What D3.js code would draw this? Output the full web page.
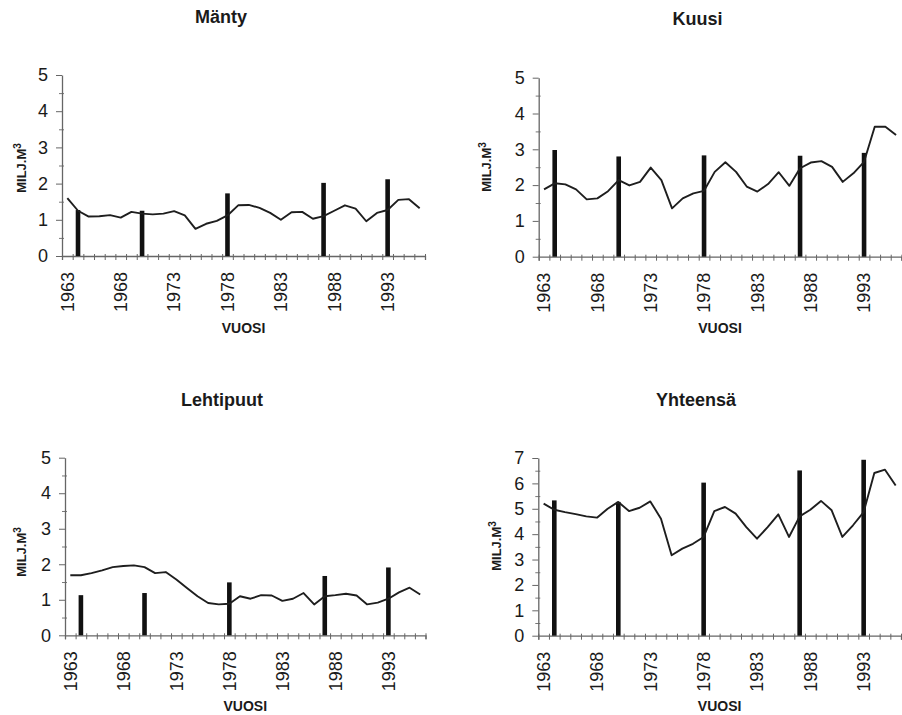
<!DOCTYPE html>
<html>
<head>
<meta charset="utf-8">
<script src="https://cdn.jsdelivr.net/npm/d3@7"></script>
<style>
  body { margin: 0; background: #fff; }
  svg { display: block; }
  text { font-family: "Liberation Sans", Arial, sans-serif; fill: #1a1a1a; }
</style>
</head>
<body>
<svg id="chart" width="902" height="715"></svg>
<script>
// years (categories)
var years = [1963, 1964, 1965, 1966, 1967, 1968, 1969, 1970, 1971, 1972, 1973, 1974,
    1975, 1976, 1977, 1978, 1979, 1980, 1981, 1982, 1983, 1984, 1985, 1986,
    1987, 1988, 1989, 1990, 1991, 1992, 1993, 1994, 1995, 1996];
var labelYears = [1963, 1968, 1973, 1978, 1983, 1988, 1993];
var barYears = [1964, 1970, 1978, 1987, 1993];

// Mänty
var manty = [1.6, 1.25, 1.09, 1.1, 1.13, 1.06, 1.22, 1.17, 1.15, 1.17, 1.24, 1.12,
    0.75, 0.89, 0.97, 1.12, 1.4, 1.41, 1.33, 1.19, 1.0, 1.21, 1.22, 1.03,
    1.1, 1.25, 1.4, 1.31, 0.96, 1.19, 1.27, 1.55, 1.57, 1.32];
var mantyBars = [1.27, 1.25, 1.73, 2.02, 2.12];

// Kuusi
var kuusi = [1.88, 2.05, 2.02, 1.88, 1.6, 1.63, 1.83, 2.14, 1.99, 2.09, 2.49, 2.14,
    1.35, 1.63, 1.77, 1.84, 2.37, 2.64, 2.37, 1.96, 1.82, 2.03, 2.36, 1.98,
    2.47, 2.63, 2.67, 2.51, 2.09, 2.33, 2.65, 3.63, 3.63, 3.4];
var kuusiBars = [2.98, 2.8, 2.83, 2.82, 2.9];

// Lehtipuut
var lehti = [1.69, 1.69, 1.75, 1.83, 1.92, 1.95, 1.97, 1.92, 1.75, 1.78, 1.57, 1.33,
    1.1, 0.91, 0.87, 0.89, 1.1, 1.03, 1.13, 1.12, 0.97, 1.03, 1.19, 0.87,
    1.1, 1.13, 1.17, 1.12, 0.87, 0.92, 1.03, 1.21, 1.34, 1.15];
var lehtiBars = [1.13, 1.19, 1.49, 1.67, 1.91];

// Yhteensä
var yht = [5.2, 4.96, 4.87, 4.79, 4.7, 4.65, 5.0, 5.27, 4.91, 5.04, 5.29, 4.61,
    3.17, 3.43, 3.62, 3.89, 4.91, 5.07, 4.81, 4.28, 3.82, 4.28, 4.78, 3.89,
    4.7, 4.96, 5.31, 4.94, 3.89, 4.35, 4.87, 6.41, 6.54, 5.92];
var yhtBars = [5.33, 5.27, 6.03, 6.51, 6.93];

var yTicks5 = [0, 1, 2, 3, 4, 5];
var yTicks7 = [0, 1, 2, 3, 4, 5, 6, 7];

// panel layout
var panels = [
    {title: "Mänty", line: manty, bars: mantyBars, yTicks: yTicks5,
     x0: 62, x1: 425, y0: 256, yTop: 75, tx: 221, ty: 23, lx: 26, ly: 168, vy: 333},
    {title: "Kuusi", line: kuusi, bars: kuusiBars, yTicks: yTicks5,
     x0: 538.7, x1: 901.4, y0: 256.7, yTop: 77.7, tx: 697.5, ty: 25, lx: 491, ly: 167, vy: 333},
    {title: "Lehtipuut", line: lehti, bars: lehtiBars, yTicks: yTicks5,
     x0: 65, x1: 425.5, y0: 635.3, yTop: 457.7, tx: 222, ty: 406, lx: 26, ly: 552, vy: 711},
    {title: "Yhteensä", line: yht, bars: yhtBars, yTicks: yTicks7,
     x0: 538.3, x1: 901, y0: 635.7, yTop: 458, tx: 696, ty: 406, lx: 501, ly: 546, vy: 711}
];

var svg = d3.select("#chart");

panels.forEach(function(p) {
    var g = svg.append("g");
    var yMax = d3.max(p.yTicks);

    var x = d3.scaleBand().domain(years).range([p.x0, p.x1]).padding(0);
    var xi = d3.scaleLinear().domain([0, years.length]).range([p.x0, p.x1]);
    var y = d3.scaleLinear().domain([0, yMax]).range([p.y0, p.yTop]);
    var cx = function(yr) { return x(yr) + x.bandwidth() / 2; };

    // minor y ticks at halves
    var halves = p.yTicks.slice(0, -1).map(function(v) { return v + 0.5; });
    var yMinor = g.append("g")
        .attr("transform", "translate(" + p.x0 + ",0)")
        .call(d3.axisLeft(y).tickValues(halves).tickSize(3).tickFormat(""));
    yMinor.select(".domain").remove();
    yMinor.selectAll(".tick line").attr("x1", -3).attr("x2", 2).attr("stroke", "#777");

    // y axis
    var yAx = g.append("g")
        .attr("transform", "translate(" + p.x0 + ",0)")
        .call(d3.axisLeft(y).tickValues(p.yTicks).tickFormat(d3.format("d"))
            .tickSizeInner(6).tickSizeOuter(0).tickPadding(8));
    yAx.select(".domain").attr("stroke", "#666").attr("stroke-width", 1.3);
    yAx.selectAll(".tick line").attr("stroke", "#666");
    yAx.selectAll(".tick text").style("font-size", "18px").attr("fill", "#222");

    // x axis with category-boundary ticks
    var xAx = g.append("g")
        .attr("transform", "translate(0," + p.y0 + ")")
        .call(d3.axisBottom(xi).tickValues(d3.range(years.length + 1))
            .tickSize(4).tickFormat(""));
    xAx.select(".domain").attr("stroke", "#666").attr("stroke-width", 1.3);
    xAx.selectAll(".tick line").attr("y1", -2).attr("y2", 4).attr("stroke", "#666");

    // x labels
    g.selectAll("text.xl").data(labelYears).enter().append("text")
        .attr("class", "xl")
        .attr("transform", function(d) { return "translate(" + cx(d) + "," + (p.y0 + 16) + ") rotate(-90)"; })
        .attr("text-anchor", "end")
        .attr("dy", "0.35em")
        .style("font-size", "18px")
        .text(function(d) { return d; });

    // bars
    g.selectAll("rect.bar").data(barYears).enter().append("rect")
        .attr("class", "bar")
        .attr("x", function(d) { return cx(d) - 2.3; })
        .attr("width", 4.6)
        .attr("y", function(d, i) { return y(p.bars[i]); })
        .attr("height", function(d, i) { return p.y0 - y(p.bars[i]); })
        .attr("fill", "#111");

    // line
    var line = d3.line()
        .x(function(d, i) { return cx(years[i]); })
        .y(function(d) { return y(d); });
    g.append("path")
        .datum(p.line)
        .attr("d", line)
        .attr("fill", "none")
        .attr("stroke", "#1e1e1e")
        .attr("stroke-width", 1.9)
        .attr("stroke-linejoin", "round");

    // title
    g.append("text")
        .attr("x", p.tx).attr("y", p.ty)
        .attr("text-anchor", "middle")
        .style("font-size", "18px").style("font-weight", "bold")
        .text(p.title);

    // y label
    var yl = g.append("text")
        .attr("transform", "translate(" + p.lx + "," + p.ly + ") rotate(-90)")
        .attr("text-anchor", "middle")
        .style("font-size", "13px").style("font-weight", "bold");
    yl.append("tspan").text("MILJ.M");
    yl.append("tspan").attr("dy", "-0.5em").style("font-size", "10px").text("3");

    // x label
    g.append("text")
        .attr("x", (p.x0 + p.x1) / 2).attr("y", p.vy)
        .attr("text-anchor", "middle")
        .style("font-size", "14px").style("font-weight", "bold")
        .text("VUOSI");
});
</script>
</body>
</html>
